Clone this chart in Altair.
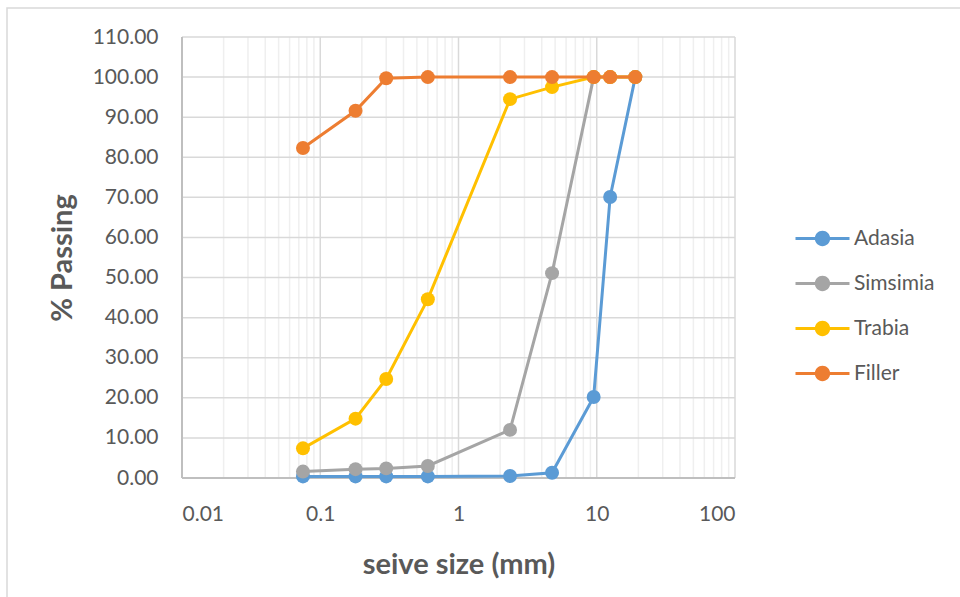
import altair as alt
import pandas as pd

# Sieve sizes (mm) and percent passing for each aggregate
sieve_mm = [0.075, 0.18, 0.3, 0.6, 2.36, 4.75, 9.5, 12.5, 19]
adasia = [0.4, 0.4, 0.4, 0.4, 0.5, 1.3, 20.2, 70.1, 100]
simsimia = [1.6, 2.2, 2.4, 3.0, 12.0, 51.1, 100, 100, 100]
trabia = [7.4, 14.8, 24.7, 44.6, 94.5, 97.5, 100, 100, 100]
filler = [82.3, 91.6, 99.7, 100, 100, 100, 100, 100, 100]

series_names = ["Adasia", "Simsimia", "Trabia", "Filler"]
series_colors = ["#5B9BD5", "#A5A5A5", "#FFC000", "#ED7D31"]

# Log-axis grid positions
major_ticks = [0.01, 0.1, 1, 10, 100]
minor_ticks = [k * d for d in [0.01, 0.1, 1, 10] for k in range(2, 10)]
y_ticks = list(range(0, 111, 10))

rows = []
for name, vals in zip(series_names, [adasia, simsimia, trabia, filler]):
    for s, v in zip(sieve_mm, vals):
        rows.append({"sieve": s, "passing": v, "series": name})
df = pd.DataFrame(rows)

FONT = "Lato"
TXT = "#595959"

x_scale = alt.Scale(type="log", domain=[0.01, 100], nice=False)
y_scale = alt.Scale(domain=[0, 110], nice=False)
color_scale = alt.Scale(domain=series_names, range=series_colors)

legend_symbol = (
    "M-3,-0.17H3V0.17H-3Z "
    "M0.85,0A0.85,0.85,0,1,1,-0.85,0A0.85,0.85,0,1,1,0.85,0Z"
)

legend = alt.Legend(
    title=None,
    orient="none",
    legendX=630,
    legendY=191,
    symbolType=legend_symbol,
    symbolSize=324,
    symbolStrokeWidth=0,
    symbolOpacity=1,
    labelOffset=21,
    labelFont=FONT,
    labelFontSize=21,
    labelColor=TXT,
    rowPadding=23,
)

# Light minor gridlines between decades
minor = (
    alt.Chart(pd.DataFrame({"v": minor_ticks}))
    .mark_rule(color="#efefef", strokeWidth=1.5)
    .encode(x=alt.X("v:Q", scale=x_scale), y=alt.value(0), y2=alt.value(441))
)

# Axes and major gridlines
axes = (
    alt.Chart(pd.DataFrame({"v": major_ticks}))
    .mark_rule(color="#d9d9d9", strokeWidth=1.5)
    .encode(
        x=alt.X(
            "v:Q",
            scale=x_scale,
            axis=alt.Axis(
                values=major_ticks,
                format="~g",
                title="seive size (mm)",
                grid=False,
                ticks=False,
                domain=False,
                labelPadding=25,
                labelFont=FONT,
                labelFontSize=21,
                labelColor=TXT,
                titleFont=FONT,
                titleFontSize=29,
                titleFontWeight="bold",
                titleColor=TXT,
                titlePadding=26,
            ),
        ),
        y=alt.value(0),
        y2=alt.value(441),
    )
)

hgrid = (
    alt.Chart(pd.DataFrame({"v": y_ticks}))
    .mark_rule(color="#d9d9d9", strokeWidth=1.5)
    .encode(
        y=alt.Y(
            "v:Q",
            scale=y_scale,
            axis=alt.Axis(
                values=y_ticks,
                format=".2f",
                title="% Passing",
                grid=False,
                ticks=False,
                domain=False,
                labelPadding=24,
                labelFont=FONT,
                labelFontSize=21,
                labelColor=TXT,
                titleFont=FONT,
                titleFontSize=29,
                titleFontWeight="bold",
                titleColor=TXT,
                titlePadding=15,
            ),
        ),
        x=alt.value(0),
        x2=alt.value(553),
    )
)

# Axis lines (left and bottom)
axis_lines = (
    alt.Chart(pd.DataFrame({"v": [0.01]}))
    .mark_rule(color="#bfbfbf", strokeWidth=2)
    .encode(x=alt.X("v:Q", scale=x_scale), y=alt.value(0), y2=alt.value(441))
) + (
    alt.Chart(pd.DataFrame({"v": [0]}))
    .mark_rule(color="#bfbfbf", strokeWidth=2)
    .encode(y=alt.Y("v:Q", scale=y_scale), x=alt.value(0), x2=alt.value(553))
)

# Chart frame
frame = (
    alt.Chart(pd.DataFrame({"v": [0]}))
    .mark_rect(fill="transparent", stroke="#d9d9d9", strokeWidth=1.5)
    .encode(
        x=alt.value(-175),
        x2=alt.value(790),
        y=alt.value(-29),
        y2=alt.value(600),
    )
)

layers = [frame, minor, axes, hgrid, axis_lines]
for name in series_names:
    base = alt.Chart(df).transform_filter(alt.datum.series == name)
    enc = dict(
        x=alt.X("sieve:Q", scale=x_scale),
        y=alt.Y("passing:Q", scale=y_scale),
        color=alt.Color("series:N", scale=color_scale, legend=legend),
    )
    layers.append(base.mark_line(strokeWidth=3).encode(**enc))
    layers.append(base.mark_point(filled=True, size=195, opacity=1).encode(**enc))

chart = (
    alt.layer(*layers)
    .resolve_scale(x="shared", y="shared")
    .properties(
        width=553,
        height=441,
        autosize=alt.AutoSizeParams(type="none"),
        padding={"left": 182, "top": 37, "right": 225, "bottom": 119},
        background="white",
    )
    .configure_view(stroke=None)
)

chart.save("out.html", embed_options={"renderer": "svg", "actions": False})
